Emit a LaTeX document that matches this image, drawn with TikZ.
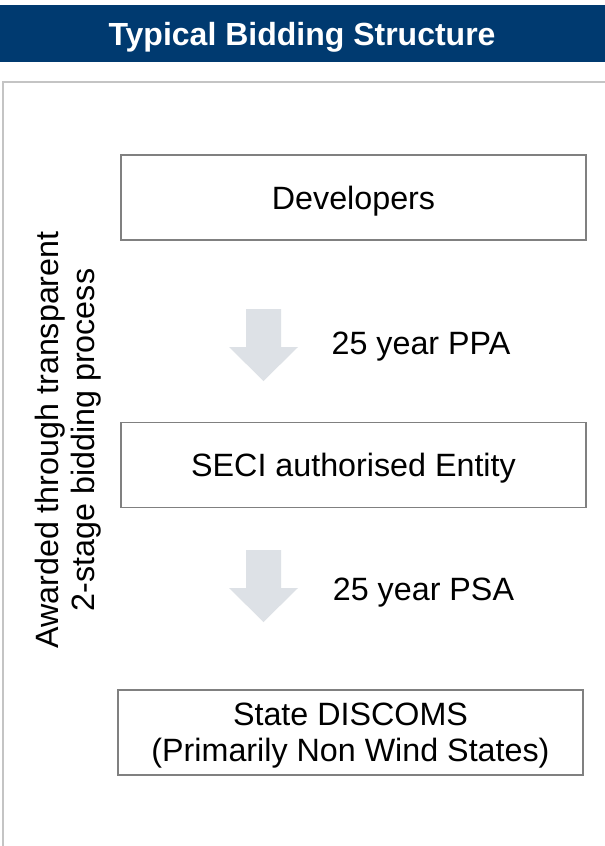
\documentclass[tikz,border=0pt]{standalone}
\usepackage{fontspec}
\setmainfont{Liberation Sans}
\definecolor{hdrblue}{HTML}{003A70}
\definecolor{framegray}{HTML}{C4C4C4}
\definecolor{boxgray}{HTML}{808080}
\definecolor{arrowfill}{HTML}{DDE1E6}
\begin{document}
\begin{tikzpicture}[x=0.75pt,y=-0.75pt,
  txt/.style={font=\fontsize{24.2}{27.5}\selectfont, text=black, inner sep=0pt, align=center},
  flowbox/.style={draw=boxgray, line width=1.1pt, fill=white, minimum width=348.75pt, minimum height=64pt, txt},
  blockarrow/.style={fill=arrowfill, draw=none}]
\useasboundingbox (0,0) rectangle (605,846);
\fill[white] (0,0) rectangle (605,846);
% header
\fill[hdrblue] (0,5) rectangle (605,62);
\node[txt, text=white, font=\fontsize{24}{27}\selectfont\bfseries] (title) at (302,37) {Typical Bidding Structure};
% frame
\draw[framegray, line width=1.5pt] (3,850) -- (3,82) -- (610,82);
% boxes
\node[flowbox] (dev) at (353.5,197.5) {};
\node[txt] (devt) at (353.5,201) {Developers};
\node[flowbox] (seci) at (353.5,465) {};
\node[txt] (secit) at (353.5,468.5) {SECI authorised Entity};
\node[flowbox] (disc) at (350.5,732.5) {};
\node[txt] (disct) at (350.5,735.5) {State DISCOMS\\(Primarily Non Wind States)};
% block arrows
\fill[blockarrow] (246,309) -- (281,309) -- (281,347) -- (298,347) -- (263.5,381) -- (229,347) -- (246,347) -- cycle;
\fill[blockarrow] (246,550) -- (281,550) -- (281,588) -- (298,588) -- (263.5,622) -- (229,588) -- (246,588) -- cycle;
% labels
\node[txt] (ppa) at (421,347) {25 year PPA};
\node[txt] (psa) at (423.5,593) {25 year PSA};
% rotated text
\node[txt, rotate=90] (side) at (68,440) {Awarded through transparent\\2-stage bidding process};
\end{tikzpicture}
\end{document}
